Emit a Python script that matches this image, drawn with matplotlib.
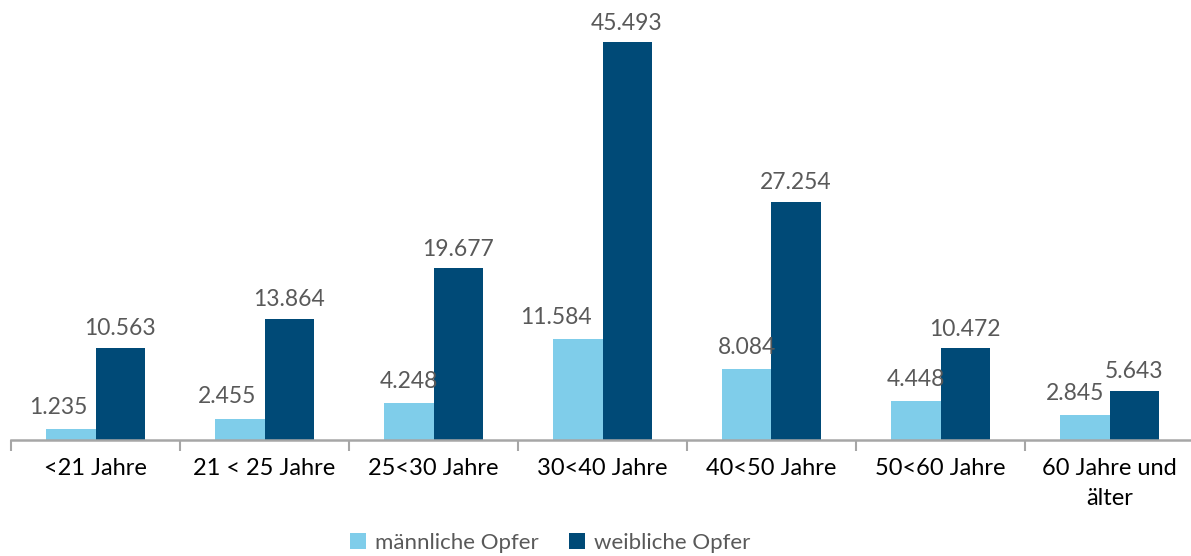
import numpy as np
import matplotlib.pyplot as plt

plt.rcParams['font.family'] = ['Lato', 'DejaVu Sans']

categories = ['<21 Jahre', '21 < 25 Jahre', '25<30 Jahre', '30<40 Jahre',
              '40<50 Jahre', '50<60 Jahre', '60 Jahre und\nälter']
maennlich = [1235, 2455, 4248, 11584, 8084, 4448, 2845]
weiblich = [10563, 13864, 19677, 45493, 27254, 10472, 5643]

c_m = '#7fcdea'
c_w = '#004a77'
grey = '#595959'

W, H = 1191, 556
fig = plt.figure(figsize=(W / 100, H / 100), dpi=100)
ax = fig.add_axes([11 / W, (H - 440) / H, (W - 11) / W, 440 / H])

x = np.arange(len(categories))
w = 0.29
b1 = ax.bar(x - w / 2, maennlich, w, color=c_m, label='männliche Opfer')
b2 = ax.bar(x + w / 2, weiblich, w, color=c_w, label='weibliche Opfer')


def fmt(v):
    return f'{v:,}'.replace(',', '.')


# label shift (points) for the light bars, like the original layout
shift_m = [-9, -9, 0, -16, 0, 0, -7]

for r, v, dx in zip(b1, maennlich, shift_m):
    ax.annotate(fmt(v), (r.get_x() + r.get_width() / 2, v),
                xytext=(dx, 8), textcoords='offset points',
                ha='center', va='bottom', fontsize=16.5, color=grey)
for r, v in zip(b2, weiblich):
    ax.annotate(fmt(v), (r.get_x() + r.get_width() / 2, v),
                xytext=(0, 6), textcoords='offset points',
                ha='center', va='bottom', fontsize=16.5, color=grey)

ax.set_xlim(-0.5, -0.5 + (W - 11) / 169)
ax.set_ylim(0, 45493 * 440 / 398)

for s in ['top', 'right', 'left']:
    ax.spines[s].set_visible(False)
ax.spines['bottom'].set_color('#a6a6a6')
ax.spines['bottom'].set_linewidth(1.8)
ax.set_yticks([])

ax.set_xticks(np.arange(len(categories)) - 0.5)
ax.set_xticklabels([])
ax.tick_params(axis='x', which='major', length=8, width=1.5, color='#a6a6a6')
ax.set_xticks(x, minor=True)
ax.set_xticklabels(categories, minor=True, fontsize=17, color='black',
                   linespacing=1.55)
ax.tick_params(axis='x', which='minor', length=0, pad=13)

fig.legend(handles=[b1, b2], loc='lower center', ncol=2, frameon=False,
           bbox_to_anchor=(0.462, -0.03), fontsize=16, labelcolor=grey,
           handlelength=0.7, handleheight=0.7, handletextpad=0.4,
           columnspacing=1.4)

fig.savefig('out.png', dpi=100)
